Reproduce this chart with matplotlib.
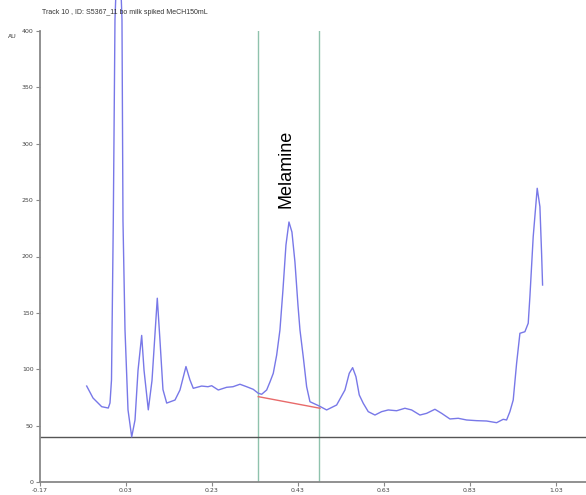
import matplotlib
matplotlib.use("Agg")
from matplotlib import pyplot as plt
import numpy as np

# chromatogram trace (time, AU)
t = [-0.0614, -0.0467, -0.0265, -0.0112, -0.0072, -0.0037, 0.0005, 0.0044, 0.0126, 0.0207,
     0.0230, 0.0277, 0.0347, 0.0433, 0.051, 0.058, 0.0665, 0.072, 0.0819, 0.0905,
     0.1028, 0.109, 0.116, 0.1247, 0.144, 0.1556, 0.1695, 0.1788, 0.1865, 0.206,
     0.2207, 0.2293, 0.2447, 0.2642, 0.2788, 0.2951, 0.3107, 0.326, 0.3377, 0.3456,
     0.3572, 0.3649, 0.3726, 0.3805, 0.3881, 0.3951, 0.4021, 0.4091, 0.416, 0.423,
     0.43, 0.4347, 0.4423, 0.4502, 0.4579, 0.4795, 0.4967, 0.52, 0.5393, 0.5493,
     0.5572, 0.5649, 0.5726, 0.5819, 0.5935, 0.6091, 0.6247, 0.64, 0.6595, 0.6788,
     0.6944, 0.7137, 0.7293, 0.7486, 0.7642, 0.7835, 0.8028, 0.8223, 0.8456, 0.8688,
     0.8921, 0.9074, 0.9153, 0.923, 0.9307, 0.9386, 0.9463, 0.9579, 0.9656, 0.9695,
     0.9772, 0.9865, 0.9928, 0.9967, 0.999]
au = [85.1, 74.5, 66.8, 65.6, 70.1, 90.5, 232, 410, 500, 410,
      232, 135, 64, 40, 55, 99, 130, 99, 64, 90,
      163, 126, 82, 70, 72.7, 81.6, 102.4, 90.5, 83.1, 85.1,
      84.5, 85.4, 81.6, 84.0, 84.5, 86.7, 84.5, 82.2, 78.7, 77.8,
      81.6, 88.7, 96.4, 112.6, 134.8, 170.3, 210.2, 230.6, 221.7, 195.1,
      157, 134.8, 111.1, 84.5, 71.2, 67.4, 63.9, 68.3, 81.6, 96.4,
      101.4, 93.4, 77.2, 69.8, 62.4, 59.4, 62.4, 63.9, 63.2, 65.4,
      63.9, 59.4, 60.9, 64.5, 60.9, 55.9, 56.5, 55.0, 54.4, 54.1,
      52.6, 55.6, 55.0, 62.4, 72.7, 105.3, 131.9, 133.3, 140.8, 164.3,
      217.6, 260.5, 244.2, 202.8, 174.7]

# integration window and baseline of the melamine peak
win = [0.336, 0.480]
base_t = [0.3377, 0.4812]
base_au = [75.7, 65.4]
threshold = 40

xticks = [-0.17, 0.03, 0.23, 0.43, 0.63, 0.83, 1.03]
yticks = [0, 50, 100, 150, 200, 250, 300, 350, 400]

fig = plt.figure(figsize=(5.86, 4.95), dpi=100)
ax = fig.add_axes([40/586, 13/495, 546/586, 451/495])

ax.plot(t, au, color='#7878e8', lw=1.0, clip_on=False, zorder=3)
ax.plot(base_t, base_au, color='#e86a6a', lw=1.0, zorder=4)
for w in win:
    ax.axvline(w, color='#8fc2ad', lw=1.0, zorder=2)
ax.axhline(threshold, color='#555555', lw=1.0, zorder=2)

ax.text(0.402, 278, 'Melamine', rotation=90, ha='center', va='center',
        fontsize=13, family='Liberation Sans', color='black')

ax.set_xlim(-0.17, 1.10)
ax.set_ylim(0, 400)
ax.set_xticks(xticks)
ax.set_xticklabels(['%.2f' % v for v in xticks])
ax.set_yticks(yticks)
ax.tick_params(labelsize=4.5, length=3, width=0.8, color='#888888',
               labelcolor='#444444', pad=1.5)
for s in ['top', 'right']:
    ax.spines[s].set_visible(False)
for s in ['left', 'bottom']:
    ax.spines[s].set_color('#888888')
    ax.spines[s].set_linewidth(1.3)

fig.text(42/586, 1 - 13/495, 'Track 10 , ID: S5367_11 bo milk spiked MeCH150mL',
         fontsize=5, family='Liberation Sans', color='#333333', va='center')
fig.text(8/586, 1 - 37/495, 'AU', fontsize=4.5, family='Liberation Sans',
         color='#333333', va='center')

fig.savefig('out.png', dpi=100)
